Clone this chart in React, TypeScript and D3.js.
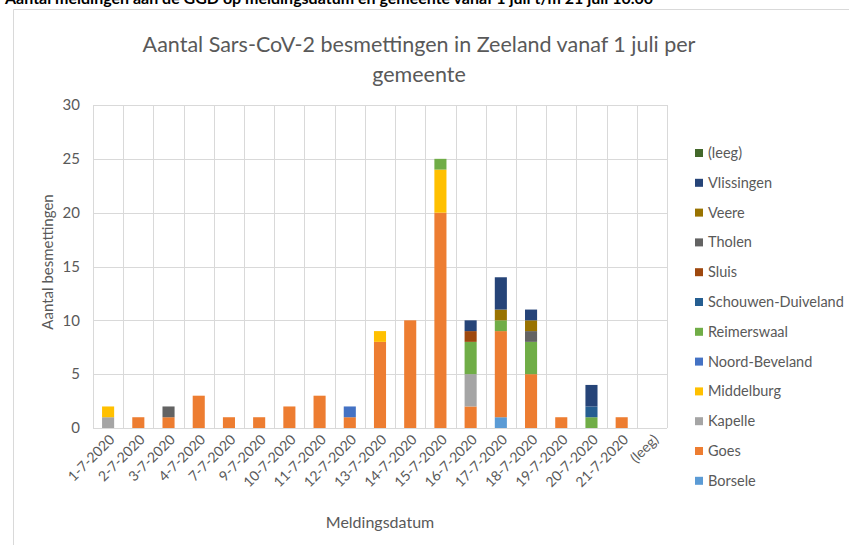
import { useMemo } from 'react';
import * as d3 from 'd3';

// categories on the x axis
const dates = [
  '1-7-2020', '2-7-2020', '3-7-2020', '4-7-2020', '7-7-2020', '9-7-2020',
  '10-7-2020', '11-7-2020', '12-7-2020', '13-7-2020', '14-7-2020', '15-7-2020',
  '16-7-2020', '17-7-2020', '18-7-2020', '19-7-2020', '20-7-2020', '21-7-2020', '(leeg)',
];

// stack order, bottom to top
const gemeenten = [
  'Borsele', 'Goes', 'Kapelle', 'Middelburg', 'Noord-Beveland', 'Reimerswaal',
  'Schouwen-Duiveland', 'Sluis', 'Tholen', 'Veere', 'Vlissingen', '(leeg)',
];

const colors = [
  '#5B9BD5', '#ED7D31', '#A5A5A5', '#FFC000', '#4472C4', '#70AD47',
  '#255E91', '#9E480E', '#636363', '#997300', '#264478', '#43682B',
];

// values per gemeente, one per date
const borsele =      [0, 0, 0, 0, 0, 0, 0, 0, 0, 0, 0, 0, 0, 1, 0, 0, 0, 0, 0];
const goes =         [0, 1, 1, 3, 1, 1, 2, 3, 1, 8, 10, 20, 2, 8, 5, 1, 0, 1, 0];
const kapelle =      [1, 0, 0, 0, 0, 0, 0, 0, 0, 0, 0, 0, 3, 0, 0, 0, 0, 0, 0];
const middelburg =   [1, 0, 0, 0, 0, 0, 0, 0, 0, 1, 0, 4, 0, 0, 0, 0, 0, 0, 0];
const noordBeveland = [0, 0, 0, 0, 0, 0, 0, 0, 1, 0, 0, 0, 0, 0, 0, 0, 0, 0, 0];
const reimerswaal =  [0, 0, 0, 0, 0, 0, 0, 0, 0, 0, 0, 1, 3, 1, 3, 0, 1, 0, 0];
const schouwen =     [0, 0, 0, 0, 0, 0, 0, 0, 0, 0, 0, 0, 0, 0, 0, 0, 1, 0, 0];
const sluis =        [0, 0, 0, 0, 0, 0, 0, 0, 0, 0, 0, 0, 1, 0, 0, 0, 0, 0, 0];
const tholen =       [0, 0, 1, 0, 0, 0, 0, 0, 0, 0, 0, 0, 0, 0, 1, 0, 0, 0, 0];
const veere =        [0, 0, 0, 0, 0, 0, 0, 0, 0, 0, 0, 0, 0, 1, 1, 0, 0, 0, 0];
const vlissingen =   [0, 0, 0, 0, 0, 0, 0, 0, 0, 0, 0, 0, 1, 3, 1, 0, 2, 0, 0];
const leeg =         [0, 0, 0, 0, 0, 0, 0, 0, 0, 0, 0, 0, 0, 0, 0, 0, 0, 0, 0];

const seriesValues = [
  borsele, goes, kapelle, middelburg, noordBeveland, reimerswaal,
  schouwen, sluis, tholen, veere, vlissingen, leeg,
];

const yTicks = [0, 5, 10, 15, 20, 25, 30];

const W = 849;
const H = 545;
const margin = { left: 93, right: 182, top: 105, bottom: 117 };
const FONT = 'Lato, "Open Sans", sans-serif';
const TEXT = '#595959';
const GRID = '#d9d9d9';

export default function App() {
  const x = useMemo(
    () => d3.scaleBand<string>().domain(dates).range([margin.left, W - margin.right]).paddingInner(0.6).paddingOuter(0.3),
    []
  );
  const y = useMemo(() => d3.scaleLinear().domain([0, 30]).range([H - margin.bottom, margin.top]), []);

  const table = dates.map((d, i) => {
    const row: Record<string, number | string> = { date: d };
    gemeenten.forEach((g, j) => (row[g] = seriesValues[j][i]));
    return row;
  });
  const stacked = d3.stack<Record<string, number | string>>().keys(gemeenten)(table as any);

  const step = x.step();
  const x0 = margin.left;
  const x1 = W - margin.right;
  const yBottom = y(0);

  return (
    <svg width={W} height={H} style={{ position: 'absolute', left: 0, top: 0, background: '#fff' }}>
      {/* page heading, cut off at the top like the source screenshot */}
      <text x={5} y={4} fontFamily={FONT} fontWeight="bold" fontSize={16} fill="#000">
        Aantal meldingen aan de GGD op meldingsdatum en gemeente vanaf 1 juli t/m 21 juli 10.00
      </text>
      {/* chart border */}
      <path d={`M13.5,${H} V9.5 H${W}`} fill="none" stroke={GRID} strokeWidth={1} />

      {/* title */}
      <text x={419} y={52} textAnchor="middle" fontFamily={FONT} fontSize={21.5} fill={TEXT}>
        Aantal Sars-CoV-2 besmettingen in Zeeland vanaf 1 juli per
      </text>
      <text x={419} y={82} textAnchor="middle" fontFamily={FONT} fontSize={21.5} fill={TEXT}>
        gemeente
      </text>

      {/* gridlines */}
      {yTicks.map(t => (
        <line key={'h' + t} x1={x0} x2={x1} y1={Math.round(y(t)) + 0.5} y2={Math.round(y(t)) + 0.5} stroke={GRID} />
      ))}
      {d3.range(dates.length + 1).map(i => (
        <line key={'v' + i} x1={Math.round(x0 + i * step) + 0.5} x2={Math.round(x0 + i * step) + 0.5} y1={y(30)} y2={yBottom} stroke={GRID} />
      ))}

      {/* bars */}
      {stacked.map((layer, j) => (
        <g key={gemeenten[j]} fill={colors[j]}>
          {layer.map((seg, i) =>
            seg[1] - seg[0] > 0 ? (
              <rect key={i} x={x(dates[i])} width={x.bandwidth()} y={y(seg[1])} height={y(seg[0]) - y(seg[1])} />
            ) : null
          )}
        </g>
      ))}

      {/* y tick labels */}
      {yTicks.map(t => (
        <text key={'yl' + t} x={80} y={y(t)} dy="0.35em" textAnchor="end" fontFamily={FONT} fontSize={15} fill={TEXT}>
          {t}
        </text>
      ))}

      {/* x tick labels */}
      {dates.map(d => {
        const cx = (x(d) ?? 0) + x.bandwidth() / 2;
        return (
          <text
            key={'xl' + d}
            transform={`translate(${cx + 4},${yBottom + 9}) rotate(-45)`}
            textAnchor="end"
            dy="0.35em"
            fontFamily={FONT}
            fontSize={14}
            fill={TEXT}
          >
            {d}
          </text>
        );
      })}

      {/* axis titles */}
      <text x={380} y={528} textAnchor="middle" fontFamily={FONT} fontSize={16} fill={TEXT}>
        Meldingsdatum
      </text>
      <text transform="translate(53,262) rotate(-90)" textAnchor="middle" fontFamily={FONT} fontSize={15} fill={TEXT}>
        Aantal besmettingen
      </text>

      {/* legend, reversed */}
      {gemeenten
        .map((g, j) => ({ g, c: colors[j] }))
        .reverse()
        .map((item, k) => {
          const cy = 153 + k * 29.8;
          return (
            <g key={'lg' + item.g}>
              <rect x={695} y={cy - 4} width={8} height={8} fill={item.c} />
              <text x={708} y={cy} dy="0.35em" fontFamily={FONT} fontSize={14.5} fill={TEXT}>
                {item.g}
              </text>
            </g>
          );
        })}
    </svg>
  );
}
